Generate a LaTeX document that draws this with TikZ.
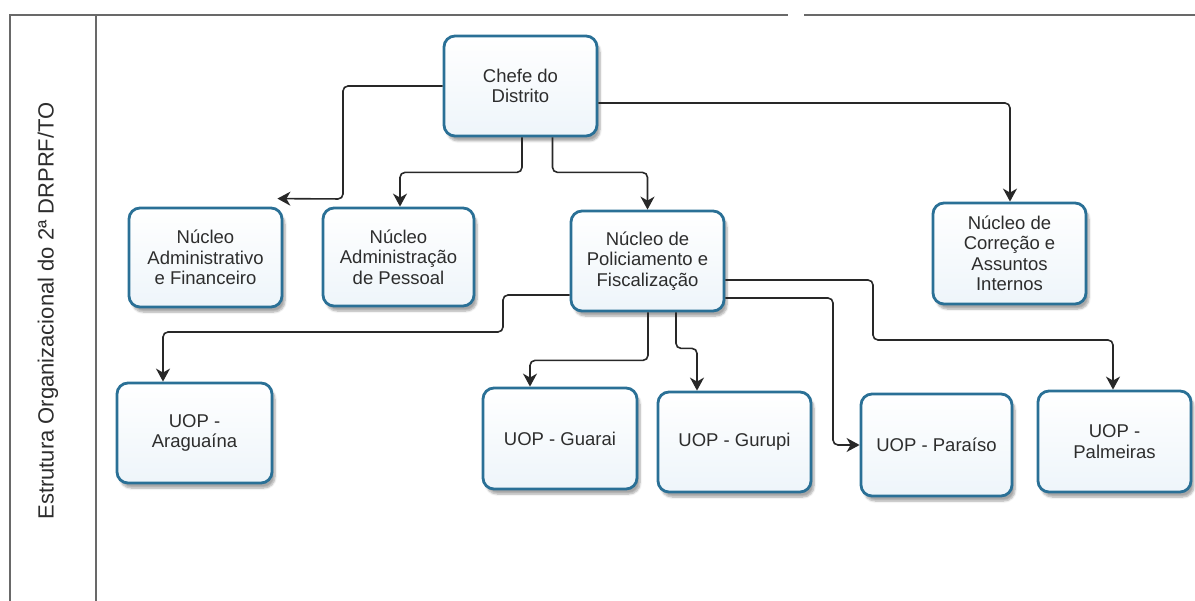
\documentclass[tikz,border=0pt]{standalone}
\usepackage{fontspec}
\setmainfont{Liberation Sans}
\usetikzlibrary{arrows.meta,shadows.blur,calc}
\definecolor{boxblue}{RGB}{42,112,150}
\definecolor{boxfill}{RGB}{238,245,250}
\definecolor{txtgray}{RGB}{45,45,45}
\definecolor{linegray}{RGB}{40,40,40}
\definecolor{framegray}{RGB}{105,105,105}
\tikzset{
  orgbox/.style={draw=boxblue, line width=2.8pt, rounded corners=11pt,
    top color=white, bottom color=boxfill,
    blur shadow={shadow xshift=3pt, shadow yshift=-5pt, shadow opacity=35, shadow blur steps=6},
    align=center, text=txtgray, inner sep=2pt,
    font=\fontsize{18.5}{20.5}\selectfont},
  conn/.style={draw=linegray, line width=1.6pt, rounded corners=5pt,
    -{Stealth[length=13pt,width=14pt,inset=4pt]}},
  framel/.style={draw=framegray, line width=2.8pt}
}
\begin{document}
\begin{tikzpicture}[x=1pt,y=-1pt]
\useasboundingbox (0,0) rectangle (1195,601);
% frame
\draw[framel] (10,601) -- (10,15) -- (788,15);
\draw[framel] (804,15) -- (1195,15);
\draw[framel] (96,15) -- (96,601);
\node[rotate=90, text=txtgray, font=\fontsize{22}{24}\selectfont] (title) at (48,311) {Estrutura Organizacional do 2ª DRPRF/TO};
% boxes
\node[orgbox, minimum width=153pt, minimum height=100pt] (chefe) at (520.5,86) {Chefe do\\Distrito};
\node[orgbox, minimum width=153pt, minimum height=99pt] (admfin) at (205.5,257.5) {Núcleo\\Administrativo\\e Financeiro};
\node[orgbox, minimum width=151pt, minimum height=98pt] (admpes) at (398.5,257) {Núcleo\\Administração\\de Pessoal};
\node[orgbox, minimum width=153pt, minimum height=100pt] (polic) at (647.5,261) {Núcleo de\\Policiamento e\\Fiscalização};
\node[orgbox, minimum width=153pt, minimum height=101pt] (correc) at (1009.5,253.5) {Núcleo de\\Correção e\\Assuntos\\Internos};
\node[orgbox, minimum width=155pt, minimum height=100pt] (arag) at (194.5,433) {UOP -\\Araguaína};
\node[orgbox, minimum width=154pt, minimum height=101pt] (guarai) at (560,438.5) {UOP - Guarai};
\node[orgbox, minimum width=153pt, minimum height=100pt] (gurupi) at (734.5,442) {UOP - Gurupi};
\node[orgbox, minimum width=151pt, minimum height=102pt] (paraiso) at (936.5,445) {UOP - Paraíso};
\node[orgbox, minimum width=153pt, minimum height=101pt] (palm) at (1114.5,441.5) {UOP -\\Palmeiras};
% connectors
\coordinate (c1end) at ($(admfin.north east)+(-6,-8)$);
\draw[conn] (chefe.west) -- (343,86) -- (343,199) -- (c1end);
\draw[conn] ([xshift=1.5pt]chefe.south) -- ++(0,35) -| ([xshift=1.5pt]admpes.north);
\draw[conn] ([xshift=32pt]chefe.south) -- ++(0,35) -| (polic.north);
\draw[conn] ([yshift=-17pt]chefe.east) -| ([xshift=0.5pt]correc.north);
\draw[conn] ([yshift=-34pt]polic.west) -- (503,295) -- (503,332) -| ([xshift=-31.5pt]arag.north);
\draw[conn] ([xshift=0.5pt]polic.south) -- ++(0,48) -| ([xshift=-30pt]guarai.north);
\draw[conn] ([xshift=28.5pt]polic.south) -- ++(0,36) -| ([xshift=-37.5pt]gurupi.north);
\draw[conn] ([yshift=-37pt]polic.east) -- (833,298) |- (paraiso.west);
\draw[conn] ([yshift=-19pt]polic.east) -- (873,280) -- (873,340) -| ([xshift=-1.5pt]palm.north);
\end{tikzpicture}
\end{document}
